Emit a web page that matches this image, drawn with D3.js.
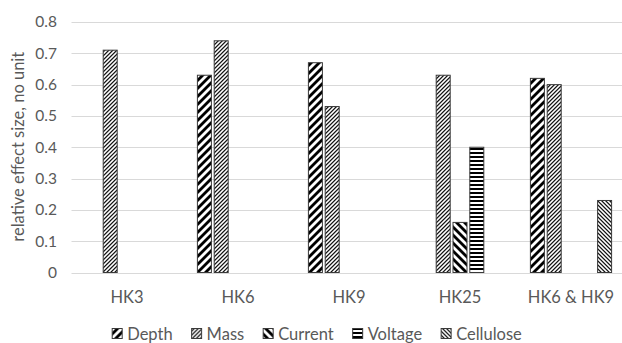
<!DOCTYPE html>
<html>
<head>
<meta charset="utf-8">
<script src="https://cdn.jsdelivr.net/npm/d3@7"></script>
<style>
  html, body { margin: 0; padding: 0; background: #fff; }
  svg { display: block; font-family: Lato, "Open Sans", sans-serif; }
</style>
</head>
<body>
<svg id="chart" width="622" height="343"></svg>
<script>
// Relative effect sizes per sensor group and factor
const categories = ["HK3", "HK6", "HK9", "HK25", "HK6 & HK9"];
const seriesNames = ["Depth", "Mass", "Current", "Voltage", "Cellulose"];
const depth     = [0,    0.63, 0.67, 0,    0.62];
const mass      = [0.71, 0.74, 0.53, 0.63, 0.60];
const current   = [0,    0,    0,    0.16, 0];
const voltage   = [0,    0,    0,    0.40, 0];
const cellulose = [0,    0,    0,    0,    0.23];
const yTicks = [0, 0.1, 0.2, 0.3, 0.4, 0.5, 0.6, 0.7, 0.8];
const yTitle = "relative effect size, no unit";

const seriesValues = [depth, mass, current, voltage, cellulose];

const svg = d3.select("#chart");
const margin = { left: 71.5, right: -4.5, top: 22, bottom: 70.5 };
const W = 622, H = 343;

const x0 = d3.scaleBand().domain(categories).range([margin.left, W - margin.right]).padding(0);
const slot = 16.8;
const barW = 14;
const x1 = d3.scaleBand().domain(seriesNames).range([-slot * 2.5, slot * 2.5]).padding(0);
const y = d3.scaleLinear().domain([0, 0.8]).range([H - margin.bottom, margin.top]);

// Fill patterns
const defs = svg.append("defs");
function pat(id, size, draw) {
  const p = defs.append("pattern").attr("id", id).attr("patternUnits", "userSpaceOnUse")
    .attr("width", size).attr("height", size);
  p.append("rect").attr("width", size).attr("height", size).attr("fill", "#fff");
  draw(p);
}
// wide upward diagonal
pat("p-depth", 8, p => p.append("path").attr("fill", "#000")
  .attr("d", "M0,4L4,0L8,0L0,8Z M8,4L8,8L4,8Z"));
// dense upward diagonal
pat("p-mass", 4, p => p.append("path").attr("fill", "#111")
  .attr("d", "M0,2.2L2.2,0L4,0L0,4Z M4,2.2L4,4L2.2,4Z"));
// wide downward diagonal
pat("p-current", 8, p => p.append("path").attr("fill", "#000")
  .attr("d", "M8,4L4,0L0,0L8,8Z M0,4L0,8L4,8Z"));
// horizontal stripes
pat("p-voltage", 4, p => p.append("rect").attr("y", 0).attr("width", 4).attr("height", 2).attr("fill", "#000"));
// dense downward diagonal
pat("p-cellulose", 4, p => p.append("path").attr("fill", "#111")
  .attr("d", "M4,2.2L1.8,0L0,0L4,4Z M0,2.2L0,4L1.8,4Z"));

const fills = {
  Depth: "url(#p-depth)", Mass: "url(#p-mass)", Current: "url(#p-current)",
  Voltage: "url(#p-voltage)", Cellulose: "url(#p-cellulose)"
};

// Gridlines
svg.append("g").selectAll("line").data(yTicks).join("line")
  .attr("x1", margin.left).attr("x2", W)
  .attr("y1", d => Math.round(y(d)) + 0.5).attr("y2", d => Math.round(y(d)) + 0.5)
  .attr("stroke", "#d9d9d9").attr("stroke-width", 1);

// Y tick labels
svg.append("g").selectAll("text").data(yTicks).join("text")
  .attr("x", 57).attr("y", d => y(d)).attr("dy", "0.35em")
  .attr("text-anchor", "end").attr("font-size", 15.5).attr("fill", "#595959")
  .text(d => d === 0 ? "0" : d3.format(".1f")(d));

// Y axis title
svg.append("text")
  .attr("transform", `translate(24,${(margin.top + H - margin.bottom) / 2 - 0.5}) rotate(-90)`)
  .attr("text-anchor", "middle").attr("font-size", 16.5).attr("fill", "#595959")
  .text(yTitle);

// Bars
const rows = [];
categories.forEach((c, ci) => seriesNames.forEach((s, si) => {
  const v = seriesValues[si][ci];
  if (v > 0) rows.push({ c, s, v });
}));
svg.append("g").selectAll("rect").data(rows).join("rect")
  .attr("x", d => x0(d.c) + x0.bandwidth() / 2 + x1(d.s) + (slot - barW) / 2)
  .attr("width", barW)
  .attr("y", d => y(d.v))
  .attr("height", d => y(0) - y(d.v))
  .attr("fill", d => fills[d.s])
  .attr("stroke", "#3a3a3a").attr("stroke-width", 1);

// X category labels
svg.append("g").selectAll("text").data(categories).join("text")
  .attr("x", d => x0(d) + x0.bandwidth() / 2).attr("y", 303)
  .attr("text-anchor", "middle").attr("font-size", 16.5).attr("fill", "#595959")
  .text(d => d);

// Legend
const lg = svg.append("g");
const items = lg.selectAll("g").data(seriesNames).join("g");
items.append("rect").attr("width", 10).attr("height", 10).attr("y", 328.5)
  .attr("fill", d => fills[d]).attr("stroke", "#3a3a3a").attr("stroke-width", 1);
items.append("text").attr("x", 15).attr("y", 339.5).attr("font-size", 16.5).attr("fill", "#595959")
  .text(d => d);
let cx = 0;
const gap = 19;
items.each(function () {
  const g = d3.select(this);
  g.attr("transform", `translate(${cx},0)`);
  cx += 15 + g.select("text").node().getComputedTextLength() + gap;
});
const total = cx - gap;
lg.attr("transform", `translate(${(107 + 527) / 2 - total / 2},0)`);
</script>
</body>
</html>
